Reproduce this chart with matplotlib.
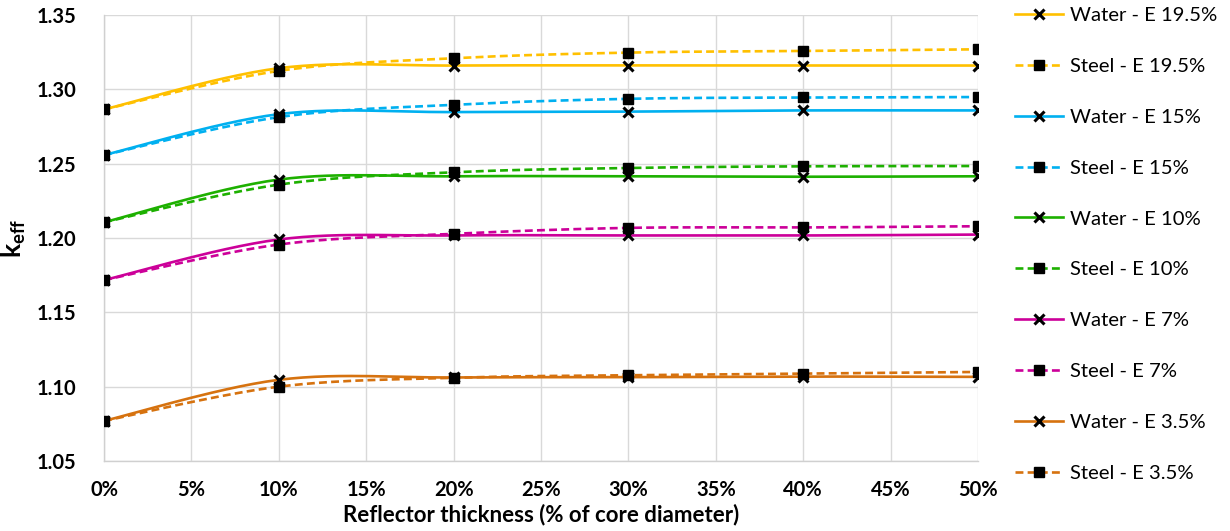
import numpy as np
import matplotlib
matplotlib.use('Agg')
import matplotlib.pyplot as plt
from matplotlib.ticker import FuncFormatter

plt.rcParams['font.family'] = ['Lato', 'DejaVu Sans']

# reflector thickness, % of core diameter
thickness = [0, 10, 20, 30, 40, 50]

water_195 = [1.2865, 1.3142, 1.3160, 1.3160, 1.3160, 1.3160]
steel_195 = [1.2865, 1.3124, 1.3209, 1.3247, 1.3258, 1.3269]
water_15 = [1.2558, 1.2833, 1.2847, 1.2850, 1.2858, 1.2858]
steel_15 = [1.2558, 1.2813, 1.2896, 1.2936, 1.2945, 1.2948]
water_10 = [1.2106, 1.2393, 1.2415, 1.2415, 1.2412, 1.2415]
steel_10 = [1.2106, 1.2359, 1.2442, 1.2471, 1.2482, 1.2484]
water_7 = [1.1717, 1.1990, 1.2017, 1.2017, 1.2017, 1.2023]
steel_7 = [1.1717, 1.1956, 1.2028, 1.2068, 1.2071, 1.2079]
water_35 = [1.0770, 1.1046, 1.1062, 1.1064, 1.1068, 1.1066]
steel_35 = [1.0770, 1.1000, 1.1060, 1.1077, 1.1088, 1.1099]

series = [
    ('Water - E 19.5%', water_195, '#FFC000', '-', 'x'),
    ('Steel - E 19.5%', steel_195, '#FFC000', '--', 's'),
    ('Water - E 15%', water_15, '#00B0F0', '-', 'x'),
    ('Steel - E 15%', steel_15, '#00B0F0', '--', 's'),
    ('Water - E 10%', water_10, '#1DB000', '-', 'x'),
    ('Steel - E 10%', steel_10, '#1DB000', '--', 's'),
    ('Water - E 7%', water_7, '#CC0099', '-', 'x'),
    ('Steel - E 7%', steel_7, '#CC0099', '--', 's'),
    ('Water - E 3.5%', water_35, '#D6720F', '-', 'x'),
    ('Steel - E 3.5%', steel_35, '#D6720F', '--', 's'),
]


def smooth(x, y, n=30):
    # excel-style smoothed line: catmull-rom bezier segments
    x = np.asarray(x, float)
    y = np.asarray(y, float)
    pts = np.column_stack([x, y])
    ext = np.vstack([pts[0], pts, pts[-1]])
    out = []
    t = np.linspace(0, 1, n)[:, None]
    for i in range(len(pts) - 1):
        p0, p3 = ext[i + 1], ext[i + 2]
        p1 = p0 + (ext[i + 2] - ext[i]) / 6
        p2 = p3 - (ext[i + 3] - ext[i + 1]) / 6
        seg = ((1 - t) ** 3) * p0 + 3 * ((1 - t) ** 2) * t * p1 + 3 * (1 - t) * t ** 2 * p2 + t ** 3 * p3
        out.append(seg if i == 0 else seg[1:])
    out = np.vstack(out)
    return out[:, 0], out[:, 1]


fig = plt.figure(figsize=(12.3, 5.31), dpi=100)
ax = fig.add_axes([0.0846, 0.1318, 0.7105, 0.8400])

for label, vals, col, ls, mk in series:
    dashes = (3, 1.6) if ls == '--' else None
    sx, sy = smooth(thickness, vals)
    if dashes:
        ax.plot(sx, sy, color=col, lw=1.9, ls='--', dashes=dashes, zorder=2)
    else:
        ax.plot(sx, sy, color=col, lw=1.9, zorder=2)
    if mk == 'x':
        ax.plot(thickness, vals, ls='none', marker='x', ms=6.5, mew=2.2, color='black', zorder=3)
    else:
        ax.plot(thickness, vals, ls='none', marker='s', ms=6.5, color='black', zorder=3)
    # legend proxy
    if dashes:
        ax.plot([], [], color=col, lw=1.9, ls='--', dashes=dashes, marker=mk, ms=6.5,
                mfc='black', mec='black', label=label)
    else:
        ax.plot([], [], color=col, lw=1.9, marker=mk, ms=6.5, mew=2.2, mfc='black', mec='black', label=label)

ax.set_xlim(0, 50)
ax.set_ylim(1.05, 1.35)
ax.set_xticks(np.arange(0, 51, 5))
ax.set_yticks(np.arange(1.05, 1.351, 0.05))
ax.xaxis.set_major_formatter(FuncFormatter(lambda v, p: '%d%%' % round(v)))
ax.yaxis.set_major_formatter(FuncFormatter(lambda v, p: '%.2f' % v))
ax.grid(True, color='#D9D9D9', lw=1)
ax.set_axisbelow(True)
for s in ['top', 'right']:
    ax.spines[s].set_visible(False)
for s in ['left', 'bottom']:
    ax.spines[s].set_color('#D0D0D0')
    ax.spines[s].set_linewidth(1)
ax.tick_params(axis='x', length=0, pad=14, labelsize=14.5)
ax.tick_params(axis='y', length=0, pad=20, labelsize=14.5)
for lab in ax.get_xticklabels() + ax.get_yticklabels():
    lab.set_fontweight('bold')

ax.set_xlabel('Reflector thickness (% of core diameter)', fontsize=16, fontweight='bold', labelpad=2)
ax.set_ylabel(r'k$_\mathregular{eff}$', fontsize=19, fontweight='bold', labelpad=6)

leg = ax.legend(loc='upper left', bbox_to_anchor=(1.022, 1.059), frameon=False, fontsize=14.6,
                handlelength=2.35, labelspacing=1.66, handletextpad=0.35, numpoints=1)

fig.savefig('out.png', dpi=100)
